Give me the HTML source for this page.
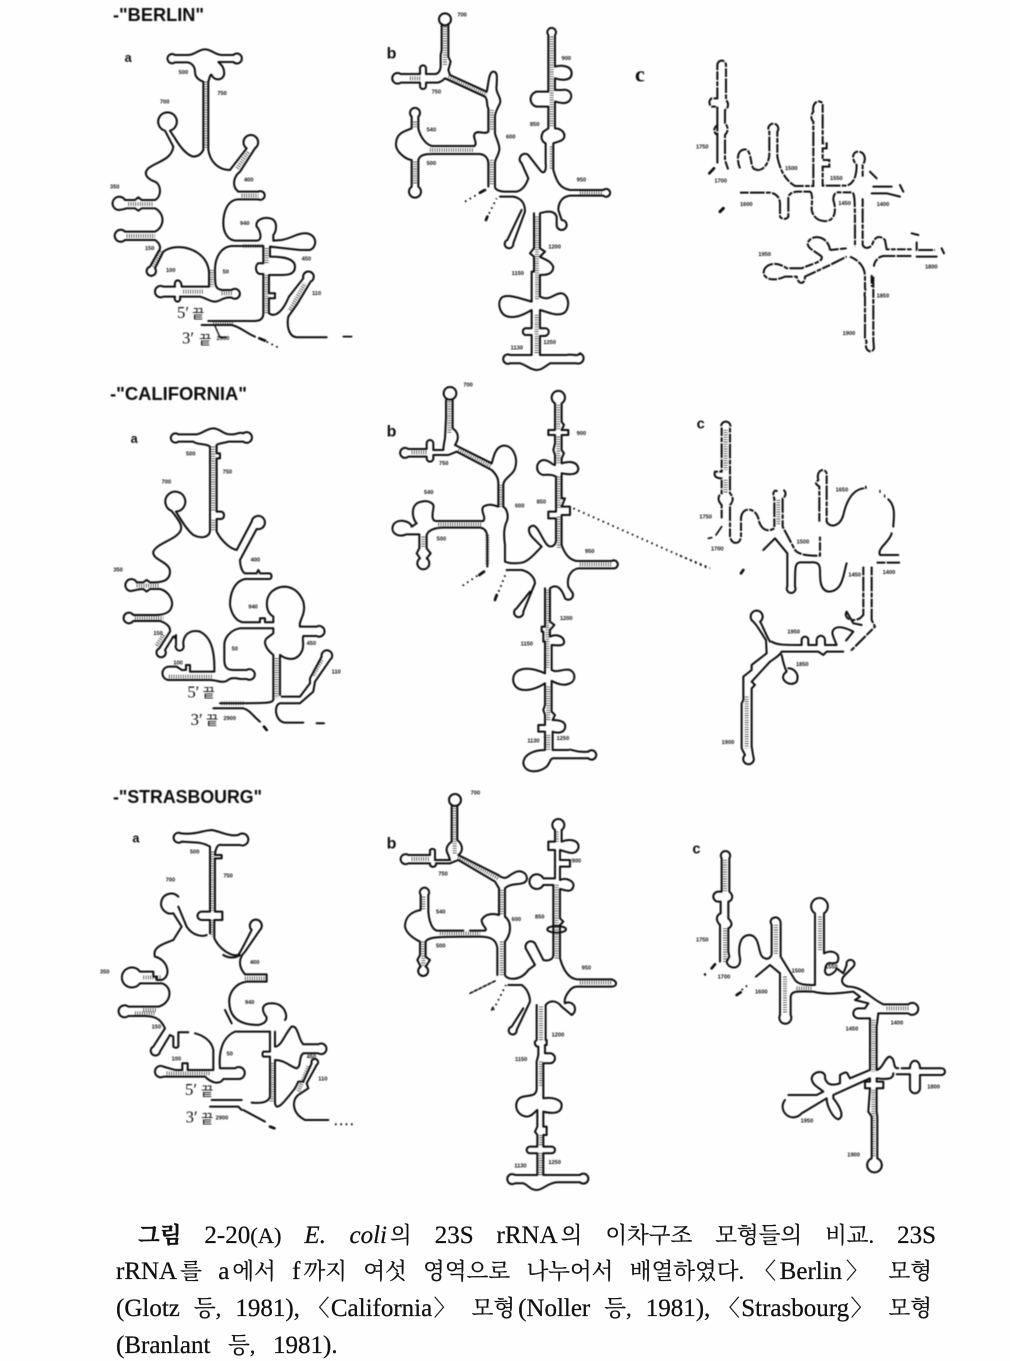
<!DOCTYPE html>
<html><head><meta charset="utf-8">
<style>
html,body{margin:0;padding:0;background:#fefefe}
body{width:1010px;height:1352px;overflow:hidden;position:relative}
svg{position:absolute;left:0;top:0}
.p{fill:none;stroke:#0a0a0a;stroke-width:6;stroke-linejoin:round;stroke-linecap:round}
.d{fill:none;stroke:#0a0a0a;stroke-width:6;stroke-dasharray:26 4 44 4 14 4}
.r{fill:none;stroke:#222;stroke-width:12;stroke-dasharray:2 5}
.dt{fill:none;stroke:#111;stroke-width:5.5;stroke-dasharray:5 11}
text{font-family:"Liberation Sans","Noto Sans CJK KR",sans-serif;fill:#111}
.l{font-size:17px;font-weight:bold}
.h{font-size:18px;font-weight:bold}
.k{font-size:24px;font-weight:bold}
.n{font-size:50px;font-family:"Liberation Serif",serif}
.q{font-size:40px;font-family:"Noto Sans CJK KR",sans-serif}
.t{position:absolute;font:22.5px/30px "Liberation Serif","Noto Serif CJK KR",serif;color:#111;white-space:nowrap;text-align:justify;text-align-last:justify;-webkit-text-stroke:.25px #111}
.t i{font-style:italic}
.e{font-size:25px}
.g{margin-left:3px}
.a{margin:0 -7px}
</style></head><body>
<svg width="1010" height="1352" viewBox="0 0 1010 1352" xmlns="http://www.w3.org/2000/svg">
<defs><filter id="b" x="-5%" y="-5%" width="110%" height="110%"><feGaussianBlur stdDeviation="0.4"/></filter></defs>
<g filter="url(#b)">
<text class="h" x="113" y="21" textLength="91" lengthAdjust="spacingAndGlyphs">-"BERLIN"</text>
<text class="h" x="110" y="400" textLength="137" lengthAdjust="spacingAndGlyphs">-"CALIFORNIA"</text>
<text class="h" x="113" y="803" textLength="149" lengthAdjust="spacingAndGlyphs">-"STRASBOURG"</text>

<!-- a Berlin -->
<g transform="translate(100,0) scale(.3333)">
<text class="k" x="74" y="186" style="font-size:38px">a</text>
<path class="p" d="M310 450V245C295 240 285 230 285 215C285 200 275 188 262 187H225A14 14 0 1 1 225 165H265C285 165 295 148 315 148C335 148 345 165 365 165H400A15 15 0 1 1 400 186H355C365 195 375 205 372 225C365 245 340 240 335 225C332 220 328 235 325 245V450C330 480 350 510 390 510L440 445A22 22 0 1 1 465 445L420 515C400 530 395 560 415 575H475A13 13 0 1 1 475 598H415C380 600 370 640 370 670C370 700 385 720 405 722H470C490 722 480 690 470 680C465 660 490 650 510 655C535 660 530 695 520 705V722L545 720C575 715 590 700 615 700C650 700 655 740 630 750H600L510 740V770C530 770 585 770 585 800C585 830 550 825 520 825H507V880H525V895H507V940C520 950 540 945 560 905L567 890L610 835A16 16 0 1 1 632 845L590 915L565 950C560 975 565 1010 590 1012H680"/>
<path class="p" d="M310 450C305 460 295 470 280 470C260 465 240 440 225 415L210 392A28 28 0 1 0 195 392L220 440C215 480 170 485 145 505C125 525 150 540 165 545C185 555 185 590 165 600H125L115 592L105 600H75A20 20 0 1 0 55 630C60 630 70 628 80 625H105L115 632L125 625H165C195 640 195 680 165 695H75A18 18 0 1 0 75 720H165C180 730 185 745 175 755L150 800A14 14 0 1 0 165 805L190 755C230 725 320 745 327 815V860H245C245 835 220 835 225 860H190A17 17 0 1 0 190 890H225C220 910 245 910 240 890H300C320 895 330 905 345 905C360 905 370 890 395 893A15 15 0 1 0 395 870H365C345 865 345 860 345 810C345 770 365 740 395 738H490V790H475C465 795 465 820 480 822H490V940C490 960 475 963 465 963H325"/>
<path class="p" d="M305 975H395C420 980 440 1000 465 1010"/><path class="p" d="M478 1015L495 1022" style="stroke-width:8"/><path class="dt" d="M500 1025L540 1045"/>
<path class="p" d="M730 1010H755" style="stroke-width:5"/>
<path class="p" d="M345 978L360 1012H378" style="stroke-width:4"/>
<path class="r" d="M318 245V445M412 505L445 455M425 587H475M85 612H160M80 708H165M160 800L185 755M335 810V860M250 875H310M365 880H395M430 738H490M500 745V790M500 825V940M570 930L615 850M340 968H400"/>
<text class="l" x="236" y="222">500</text><text class="l" x="352" y="285">750</text><text class="l" x="180" y="310">700</text><text class="l" x="432" y="544">400</text><text class="l" x="30" y="565">350</text><text class="l" x="420" y="675">940</text><text class="l" x="135" y="750">150</text><text class="l" x="198" y="816">100</text><text class="l" x="368" y="820">50</text><text class="l" x="605" y="782">450</text><text class="l" x="636" y="885">110</text><text class="l" x="350" y="1020">2900</text>
<text class="n" x="231" y="954">5′</text><text class="q" x="276" y="956">끝</text>
<text class="n" x="246" y="1030">3′</text><text class="q" x="297" y="1034">끝</text>
</g>

<!-- b Berlin -->
<g transform="translate(380,0) scale(.3333)">
<text class="k" x="20" y="175" style="font-size:48px">b</text>
<circle class="p" cx="195" cy="58" r="18"/>
<path class="p" d="M185 72V150L182 165V200C180 215 175 222 165 222H138V205A8 8 0 0 0 120 205V222H62A16 16 0 1 0 62 248H120V258A8 8 0 0 0 138 258V248H170C180 248 190 240 195 235L315 290C325 300 318 315 325 325V395C315 405 295 390 285 400C275 410 295 430 283 438H155C130 430 118 400 115 385V350A15 15 0 1 0 95 350V385C70 395 50 400 48 430C45 455 80 480 95 480V560A18 18 0 1 0 115 560V480C120 465 135 462 155 462H300C320 465 325 480 325 490V560"/>
<path class="p" d="M205 72V170L212 185L205 210L210 225L320 275C325 260 325 215 340 215C355 215 350 240 350 255C345 280 365 290 360 310C350 330 345 340 345 350V400C350 420 360 435 358 450C355 470 345 475 345 490V560C345 570 360 575 380 575H410C430 570 440 550 445 535L425 490A13 13 0 0 1 445 465L480 510C490 525 500 515 497 490V430C485 425 480 410 490 395L505 385V320H470A23 23 0 0 1 470 275H505V150V105A13 13 0 1 1 525 105V200C540 195 575 195 575 220C575 245 540 240 525 235V270H545C570 265 580 285 570 300C560 315 540 308 525 305V385C545 385 555 400 553 410C550 425 530 425 520 430V510C530 545 540 565 570 570H670A12 12 0 1 1 670 587H570C545 590 535 610 535 630L545 660A15 15 0 1 1 530 675L530 650C525 635 510 630 480 640V745L495 755L480 770C495 780 510 780 520 800C520 825 495 825 480 825V890C510 905 520 880 545 880C570 885 570 930 550 940C530 950 500 935 480 930V985H495C510 985 510 1005 495 1008H480V1065H560C580 1060 590 1072 600 1060A15 15 0 1 1 590 1090H510C495 1100 485 1110 470 1110C450 1110 440 1095 420 1090H390A14 14 0 1 1 390 1065H455V1005H435A11 11 0 0 1 435 985H455V930C430 945 405 955 385 950C360 945 350 910 365 893C380 880 420 895 455 905V815H462V770L450 760L462 745V640"/>
<path class="p" d="M360 590H400C425 595 435 610 435 635L400 730A13 13 0 1 1 382 720L425 630"/>
<path class="dt" d="M255 605L315 570M320 655L350 595"/>
<path class="p" d="M300 578L315 570M318 660L322 650" style="stroke-width:8"/>
<path class="r" d="M195 80V195M90 235H120M205 232L320 285M335 330V390M150 450H280M105 365V385M105 485V555M335 480V555M515 110V380M515 440V510M600 578H670M471 650V900M470 945V1060"/>
<text class="l" x="232" y="50">700</text><text class="l" x="155" y="280">750</text><text class="l" x="140" y="395">540</text><text class="l" x="140" y="495">500</text><text class="l" x="378" y="415">600</text><text class="l" x="545" y="180">900</text><text class="l" x="450" y="378">850</text><text class="l" x="590" y="545">950</text><text class="l" x="505" y="745">1200</text><text class="l" x="395" y="825">1150</text><text class="l" x="392" y="1048">1130</text><text class="l" x="490" y="1032">1250</text>
</g>

<!-- c Berlin -->
<g transform="translate(670,40) scale(.3333)">
<text class="s" x="-105" y="125" style="font-size:66px;font-weight:bold;font-family:'Liberation Serif',serif">c</text>
<path class="d" d="M142 370V200H125A15 15 0 0 1 125 175H142V75A13 13 0 1 1 168 75V180C178 190 175 205 165 210V250C180 265 170 280 165 285V360L175 390M142 200V255C125 270 135 280 142 285V370"/>
<path class="p" d="M132 385L118 400" style="stroke-width:8"/>
<path class="d" d="M210 385C200 360 200 330 225 328C245 330 240 370 250 385C270 400 295 380 298 345V275A15 15 0 1 1 322 275V350C330 390 345 420 375 438H430V245C420 235 425 220 430 215C425 190 445 175 458 190V310H470V325H458V360H478V380H458V437H530C555 430 560 400 560 375C545 360 545 335 565 335C585 335 590 360 578 375V410"/>
<path class="d" d="M210 458H300C320 460 330 475 330 490V530A15 15 0 0 0 355 530V475C355 460 370 455 385 455H420C430 460 425 490 425 510C430 535 450 545 470 543C495 540 500 510 490 480C490 465 495 455 510 457H545C555 460 555 470 555 620M578 475V615C585 630 605 625 610 605C620 585 635 590 645 600L650 628H725M740 605V630H795M650 648H640C625 650 612 665 612 680M650 648H725M605 705V740"/>
<path class="p" d="M600 395L620 415M610 440H665M605 460H650L690 470M690 435L700 455M740 650H800M725 580L745 585M815 625L822 640"/>
<path class="p" d="M150 515L160 505" style="stroke-width:9"/>
<path class="d" d="M480 630C475 590 430 580 415 605C405 625 440 635 455 650C460 665 430 670 395 685H350C330 670 300 665 285 685C270 710 300 730 345 710H380C385 735 405 735 405 710L480 675L530 650M480 630L530 625M540 650C565 660 585 680 585 710V745C590 755 580 760 585 770V895L590 905C580 930 605 945 612 925L610 900V765V710"/>
<text class="l" x="78" y="325">1750</text><text class="l" x="133" y="428">1700</text><text class="l" x="345" y="390">1500</text><text class="l" x="210" y="498">1600</text><text class="l" x="480" y="420">1550</text><text class="l" x="505" y="495">1450</text><text class="l" x="620" y="498">1400</text><text class="l" x="265" y="648">1950</text><text class="l" x="620" y="772">1850</text><text class="l" x="518" y="885">1900</text><text class="l" x="765" y="685">1800</text>
</g>

<!-- a California -->
<g transform="translate(100,375) scale(.3333)">
<text class="k" x="92" y="204" style="font-size:38px">a</text>
<path class="p" d="M330 470V215C320 205 290 210 280 200H235A14 14 0 1 1 235 178H290C310 175 320 160 340 160C360 160 370 180 395 178C410 180 415 170 430 175A16 16 0 1 1 430 200H385C370 205 345 205 350 215V235H360V250H350V410H365A12 12 0 0 1 365 432H350V470C360 490 385 520 410 525L455 440A20 20 0 1 1 470 462L420 555C420 570 425 590 435 595H470L475 585L480 595H510A10 10 0 0 1 510 612H435C400 620 390 660 390 690C395 720 410 740 430 742H480V730H495V742H520V725C495 710 495 670 515 650C545 625 590 630 610 680C620 720 595 735 600 755H650A16 16 0 1 1 650 783H610C605 795 615 810 605 830C590 860 560 855 540 840V960"/>
<path class="p" d="M330 470C325 490 300 490 280 480C260 465 240 430 228 410A30 30 0 1 0 215 408C240 440 250 455 240 470C225 495 170 505 160 530C155 555 210 560 210 590C210 615 190 622 165 622H150L140 615L130 622H110A18 18 0 1 0 90 648C105 648 110 642 130 642L140 650L150 642H180C210 650 220 680 215 695C210 715 190 720 165 720H100A16 16 0 1 0 100 738H180C200 745 212 755 210 770L178 820A14 14 0 1 0 195 825L220 785C225 780 225 800 228 780V810A12 12 0 1 0 250 810L250 800C255 770 280 765 300 770C330 785 345 820 343 890H270V870H258V885H245L230 875H210A15 15 0 1 0 205 915H330C350 915 365 925 380 918C395 905 410 910 420 912H440A16 16 0 1 0 440 885H400C380 885 373 875 373 855V810C373 790 390 765 420 760H520V775L500 790C490 800 495 820 520 840V975C515 985 500 985 360 985"/>
<path class="p" d="M545 965H600L630 925V910L665 845A16 16 0 1 1 690 855L645 920L640 950L600 985H540C520 990 525 1040 555 1043H610M340 1000H430C450 1005 460 1025 480 1040"/>
<path class="p" d="M492 1055L500 1065" style="stroke-width:8"/><path class="p" d="M650 1045H672" style="stroke-width:6"/>
<path class="r" d="M340 215V410M340 435V470M110 632H180M105 729H190M190 780L168 815M207 905H335M530 850V970M640 900L665 855M365 985H430"/>
<text class="l" x="258" y="242">500</text><text class="l" x="368" y="296">750</text><text class="l" x="185" y="325">700</text><text class="l" x="452" y="560">400</text><text class="l" x="40" y="590">350</text><text class="l" x="445" y="700">940</text><text class="l" x="160" y="780">150</text><text class="l" x="220" y="868">100</text><text class="l" x="395" y="826">50</text><text class="l" x="620" y="810">450</text><text class="l" x="695" y="895">110</text><text class="l" x="370" y="1035">2900</text>
<text class="n" x="262" y="968">5′</text><text class="q" x="308" y="968">끝</text>
<text class="n" x="272" y="1050">3′</text><text class="q" x="318" y="1050">끝</text>
</g>

<!-- b California -->
<g transform="translate(380,375) scale(.3333)">
<text class="k" x="20" y="185" style="font-size:48px">b</text>
<circle class="p" cx="210" cy="55" r="19"/>
<path class="p" d="M198 75V130L195 190C190 215 190 222 190 225H160V205A10 10 0 0 0 140 205V222H85A15 15 0 1 0 85 245H140V250A10 10 0 0 0 160 250V240H205L230 230L335 285C350 300 355 310 355 325V395C340 390 325 385 310 395C300 410 320 425 310 438H170C150 440 160 405 160 400C165 385 145 375 125 380C90 385 95 430 110 445L95 455C90 435 50 430 40 450C30 470 50 490 80 478H118V520L110 535L120 550A18 18 0 1 0 140 550L152 535L140 520V480C145 465 165 458 190 458H300C315 460 322 470 322 490V575"/>
<path class="p" d="M218 75V160C240 175 235 195 225 210L335 265C340 250 345 215 370 212C400 210 415 250 405 280C400 300 370 310 370 330V395C385 405 385 430 380 440C370 460 372 490 375 510V560C385 565 410 567 430 562C450 555 470 530 485 515L460 490C445 475 440 455 460 452C475 455 485 490 500 508C510 520 530 515 528 490V430H505V410H528V305C520 300 510 298 490 300C465 295 465 260 490 255C510 255 515 270 525 270V240L520 225L525 205V180H505V165H525V85A20 20 0 1 1 545 85V140L552 150L545 165H565V180H545V225L552 235L545 250V265C560 260 590 255 595 280C595 300 570 300 545 295V370H555L545 395H570V420H545V510C555 540 570 555 590 558H695A12 12 0 1 1 700 580H595C570 585 560 610 565 635L575 650A14 14 0 1 1 555 670C545 640 530 625 510 640V740L523 750L510 765V785C530 775 555 785 552 805C545 815 530 810 515 810V885C530 895 550 880 570 885C590 895 585 920 570 925C550 935 530 925 515 918V1010L525 1020L518 1035C540 1035 560 1040 555 1060C550 1075 530 1075 518 1070V1125H565C575 1120 585 1135 625 1130A14 14 0 1 1 625 1150H575L555 1150H520C510 1150 510 1165 500 1175C475 1195 435 1195 430 1165C430 1140 460 1125 495 1125V1070H475V1050H495V1020L490 1005L495 990V925C465 945 410 960 400 920C395 880 440 870 495 895V800H490V770H485V755H495V640"/>
<path class="p" d="M380 585H425C450 590 465 610 465 625L430 710A14 14 0 1 1 410 700L450 650"/>
<path class="dt" d="M248 632L295 600M350 665L380 590M580 400L990 582"/>
<path class="p" d="M298 600L312 590M345 675L350 660" style="stroke-width:8"/>
<path class="r" d="M208 80V175M95 232H140M235 225L335 275M362 330V395M175 448H305M130 485V520M322 480V570M535 90V165M535 185V265M537 305V400M537 425V520M600 568H695M502 645V880M505 935V1040M505 1080V1125"/>
<text class="l" x="250" y="35">700</text><text class="l" x="177" y="270">750</text><text class="l" x="132" y="357">540</text><text class="l" x="170" y="497">500</text><text class="l" x="405" y="398">600</text><text class="l" x="590" y="180">900</text><text class="l" x="470" y="385">850</text><text class="l" x="615" y="534">950</text><text class="l" x="540" y="735">1200</text><text class="l" x="422" y="812">1150</text><text class="l" x="442" y="1103">1130</text><text class="l" x="530" y="1095">1250</text>
</g>

<!-- c California -->
<g transform="translate(680,410) scale(.3333)">
<text class="k" x="50" y="55" style="font-size:44px">c</text>
<path class="d" d="M125 325V285C110 270 115 255 125 250V205C110 205 100 200 105 185H125V55A14 14 0 1 1 150 55V250C165 265 155 280 150 285V380C155 405 180 405 183 380V325C185 290 225 290 235 325C240 355 260 370 283 355V265C275 250 285 235 292 245M310 240C320 245 318 260 308 265V350L345 420C355 435 390 438 420 437V380"/>
<path class="p" d="M125 350L108 375M85 385L95 383" style="stroke-width:5"/>
<path class="d" d="M418 335V230C405 220 405 220 415 210C405 175 445 170 440 200V335"/>
<path class="p" d="M440 335C450 355 480 350 490 315C500 270 520 240 550 235M625 268C650 290 640 330 640 350M635 370C630 395 590 415 600 435H655M500 460C490 490 490 545 445 545C420 540 420 510 420 480C420 460 410 455 390 457H360C345 460 345 470 345 530A13 13 0 1 1 322 530V430L285 385L250 420"/>
<path class="dt" d="M0 437L90 474"/><path class="dt" d="M555 232H560M598 244H602M612 258H616" style="stroke-width:9"/>
<path class="p" d="M183 490L190 480" style="stroke-width:8"/>
<path class="d" d="M590 458H660M550 470V615L540 625C510 640 490 620 500 605M575 470V630L585 650L510 725"/>
<path class="p" d="M270 695C255 670 245 640 240 635A18 18 0 1 0 220 635C235 650 250 680 258 690L260 730L215 765L215 780L190 800V870L185 880V1015L195 1035A16 16 0 1 0 220 1040L215 1010V835L225 825L215 815L270 755C285 745 300 735 305 725H415L430 735L440 725H490M275 695C290 705 310 705 365 705V690A9 9 0 0 1 385 690V705H410V690A9 9 0 0 1 435 690V705H470C460 680 450 665 465 655C480 645 510 660 520 665C500 690 495 695 500 690M500 605L520 640L545 645M305 735C310 760 315 775 320 785C290 805 330 835 350 815C360 790 340 775 325 775"/>
<path class="r" d="M200 860V1015M137 60V180M137 210V250M295 270V345"/>
<text class="l" x="58" y="325">1750</text><text class="l" x="93" y="422">1700</text><text class="l" x="350" y="400">1500</text><text class="l" x="467" y="245">1650</text><text class="l" x="505" y="500">1450</text><text class="l" x="608" y="492">1400</text><text class="l" x="322" y="670">1950</text><text class="l" x="348" y="768">1850</text><text class="l" x="125" y="1002">1900</text>
</g>

<!-- a Strasbourg -->
<g transform="translate(95,780) scale(.3333)">
<text class="k" x="112" y="188" style="font-size:38px">a</text>
<path class="p" d="M345 460V420H320A12 12 0 0 1 320 395H345V215V200C320 185 300 188 260 185A15 15 0 1 1 258 160C300 165 320 152 350 150C380 155 400 170 430 165A18 18 0 1 1 435 195H380C365 190 360 215 360 225H380V235H360V395H382V420H358V475C375 510 410 530 430 525C440 510 460 470 470 450A18 18 0 1 1 495 450L450 515C430 535 430 560 450 583H515V605H455C420 610 400 640 403 670C405 710 430 735 490 735C515 730 520 715 510 705C495 680 510 670 530 670C570 670 580 710 570 720"/>
<path class="p" d="M525 755H420C385 770 370 810 375 865H420A18 18 0 1 1 430 897H385C375 915 350 910 330 890H205A17 17 0 1 1 205 860L240 870H262V850H278V870H355V810C350 780 320 765 300 760M280 757H250V800A10 10 0 0 1 235 800V770L225 765L195 815A14 14 0 1 1 175 800L210 745C200 725 190 708 150 708H100A18 18 0 1 1 100 680H190C230 670 235 620 200 610H135A30 30 0 1 1 135 575H175V590H185V600H200C230 590 220 540 180 530C170 500 210 490 235 480L260 440L235 400A30 30 0 1 1 250 350M250 380L275 440C295 470 325 470 335 465"/>
<path class="p" d="M525 755V815H505A12 12 0 0 0 505 830H525V950C520 970 490 970 470 968M540 755V800C560 800 570 760 590 740C610 735 610 780 625 793H670A16 16 0 1 1 670 820H625C610 830 620 860 605 865C585 860 570 840 540 840V970C545 995 565 970 600 925L610 905L625 905L650 850A10 10 0 1 1 665 855L635 910L640 925L610 945C590 960 590 1000 630 1020H700M350 960H440M345 980H430L440 990M445 990L510 1025"/>
<path class="p" d="M385 525C400 535 420 535 435 525M390 690L410 730"/>
<path class="dt" d="M720 1033H780" style="stroke-width:6"/><path class="p" d="M525 1040L538 1045" style="stroke-width:8"/>
<path class="r" d="M352 215V395M352 420V470M145 690H185M120 700H180M145 592H200M215 880H345M530 850V965M640 860L610 935M450 595H510"/>
<text class="l" x="285" y="220">500</text><text class="l" x="385" y="292">750</text><text class="l" x="212" y="305">700</text><text class="l" x="465" y="552">400</text><text class="l" x="15" y="580">350</text><text class="l" x="450" y="672">940</text><text class="l" x="170" y="745">150</text><text class="l" x="230" y="842">100</text><text class="l" x="395" y="826">50</text><text class="l" x="635" y="835">450</text><text class="l" x="670" y="902">110</text><text class="l" x="362" y="1018">2900</text>
<text class="n" x="270" y="945">5′</text><text class="q" x="318" y="948">끝</text>
<text class="n" x="272" y="1028">3′</text><text class="q" x="318" y="1030">끝</text>
</g>

<!-- b Strasbourg -->
<g transform="translate(380,785) scale(.3333)">
<text class="k" x="20" y="190" style="font-size:48px">b</text>
<circle class="p" cx="225" cy="45" r="18"/>
<path class="p" d="M215 65V170C200 180 195 195 205 210L210 225L165 225V195A10 10 0 0 0 150 195V210H85A15 15 0 1 0 85 235H150V240A10 10 0 0 0 168 240V235H210L235 225L345 290L357 310V390C340 385 315 385 305 405C305 425 325 430 315 437H270M250 437H170C150 430 145 390 145 375V330A14 14 0 1 0 122 330V375C95 380 75 395 75 425C80 450 110 465 120 470V510L112 525L122 545A15 15 0 1 0 137 545L150 525L137 515V470C145 455 175 455 300 455C340 455 350 470 352 490V570"/>
<path class="p" d="M232 65V165C250 180 250 200 235 210L355 270C380 290 385 270 400 265C420 250 445 265 440 285C430 305 395 290 375 310V395C395 410 395 445 375 470V570C380 585 420 590 445 555L465 540L440 495A15 15 0 1 1 465 475L490 525C510 530 520 520 520 510V420V300H490A22 22 0 1 1 490 280H525V195H505V170H525V135A18 18 0 1 1 545 135V170C570 160 600 165 595 190C585 215 560 200 540 195V225H570V245H540V285C560 275 585 290 580 305C575 325 555 315 540 312V400L550 410L540 420V520C550 555 565 580 590 583H695C715 590 710 605 695 605H590C570 605 550 640 555 655A14 14 0 1 1 575 690L545 665C530 645 510 645 497 660V765H500V780H495V805H510A15 15 0 0 1 510 835H490V940C520 935 545 945 545 960C545 990 510 985 490 980V1025H500V1050H490V1085H515A10 10 0 0 1 515 1105H490V1170H600A15 15 0 1 1 600 1192H530C500 1195 490 1215 470 1215C450 1215 445 1200 430 1195H405A15 15 0 1 1 405 1170H472V1105H450A10 10 0 0 1 450 1085H472V1050L465 1040L472 1025V975C465 980 455 995 440 995C400 990 400 940 430 935C450 930 470 935 470 910V830C470 830 470 830 475 810V785C465 785 460 770 470 765V660"/>
<ellipse class="p" cx="530" cy="433" rx="28" ry="10"/>
<path class="p" d="M385 600H425C440 610 450 630 450 650L410 735A12 12 0 1 1 395 725L430 670"/>
<path class="p" d="M270 625L345 588M335 675L340 665" style="stroke-width:5;stroke-dasharray:9 6"/>
<path class="dt" d="M340 675L378 600"/>
<path class="r" d="M224 70V205M95 222H150M235 215L355 280M365 315V390M365 470V570M130 335V375M130 470V545M180 445H300M530 300V420M530 420V520M530 140V170M600 593H695M483 665V770M483 830V905M483 1050V1085M482 1105V1170"/>
<text class="l" x="272" y="28">700</text><text class="l" x="175" y="272">750</text><text class="l" x="168" y="385">540</text><text class="l" x="168" y="488">500</text><text class="l" x="395" y="408">600</text><text class="l" x="575" y="233">900</text><text class="l" x="465" y="400">850</text><text class="l" x="605" y="553">950</text><text class="l" x="515" y="755">1200</text><text class="l" x="405" y="828">1150</text><text class="l" x="403" y="1147">1130</text><text class="l" x="505" y="1137">1250</text>
</g>

<!-- c Strasbourg -->
<g transform="translate(670,830) scale(.3333)">
<text class="k" x="67" y="70" style="font-size:44px">c</text>
<path class="p" d="M150 395V285C135 270 140 255 152 250V215H145A15 15 0 0 1 145 185H155V85A14 14 0 1 1 178 85V185C190 195 190 210 175 215V265C190 280 185 290 175 295V365L178 380L170 395C175 420 215 420 210 385C205 360 205 315 240 315C275 320 260 380 285 385C295 390 305 380 305 370V285C290 260 335 250 332 285V380L375 450C385 465 410 465 435 465V250A25 25 0 1 1 462 250V370C480 360 505 365 505 385C505 400 495 400 485 400C470 395 465 410 465 425C470 445 495 430 500 415L520 430L530 405A12 12 0 1 1 550 410L525 435C510 450 515 465 535 470C580 470 600 505 640 523H715A18 18 0 1 1 715 550H625L620 590V720C640 715 645 680 660 680C680 690 665 715 685 715"/>
<path class="p" d="M258 440L300 405L330 430V555A18 18 0 1 0 362 555V500C365 480 385 485 430 485C470 495 500 490 550 485L570 500L555 510L595 520L585 535H565A12 12 0 0 0 565 565H600V720L540 745C530 730 535 720 510 735V760C480 770 470 760 465 745C470 720 430 720 425 745C425 765 450 775 460 785L440 795H355M345 810A22 22 0 0 0 395 850L470 805C470 830 490 865 505 868C525 860 510 830 490 805L490 795L600 745V755H585V775H600L595 845L605 860V985A22 22 0 1 0 622 985V860L620 845V775H640V755H620V745C660 750 670 745 670 730M680 733H720V775A15 15 0 1 0 750 775V735H815A10 10 0 1 0 815 715H750C750 685 720 685 720 715H695"/>
<path class="p" d="M125 415L135 403M200 495L212 487" style="stroke-width:8"/>
<path class="dt" d="M215 480L240 460"/>
<path class="p" d="M105 433V434" style="stroke-width:7"/>
<path class="r" d="M165 90V185M165 295V395M318 285V375M450 260V360M345 440V550M610 570V725M610 780V980M650 535H715M380 475H425"/>
<text class="l" x="78" y="335">1750</text><text class="l" x="143" y="445">1700</text><text class="l" x="365" y="428">1500</text><text class="l" x="255" y="490">1600</text><text class="l" x="465" y="415">1550</text><text class="l" x="527" y="602">1450</text><text class="l" x="662" y="584">1400</text><text class="l" x="772" y="775">1800</text><text class="l" x="392" y="878">1950</text><text class="l" x="532" y="980">1900</text>
</g>
</g>
</svg>
<div class="t" style="left:138px;top:1221px;width:798px"><b>그림</b> <span class="e">2-20</span>(A) <i class="e">E. coli</i><span class="g">의</span> <span class="e">23S</span> <span class="e">rRNA</span><span class="g">의</span> 이차구조 모형들의 비교. <span class="e">23S</span></div>
<div class="t" style="left:116px;top:1257px;width:816px"><span class="e">rRNA</span><span class="g">를</span> <span class="e">a</span><span class="g">에서</span> <span class="e">f</span><span class="g">까지</span> 여섯 영역으로 나누어서 배열하였다. <span class="a">〈</span><span class="e">Berlin</span><span class="a">〉</span> 모형</div>
<div class="t" style="left:116px;top:1294px;width:816px"><span class="e">(Glotz</span> 등, <span class="e">1981),</span> <span class="a">〈</span><span class="e">California</span><span class="a">〉</span> 모형<span class="g e">(Noller</span> 등, <span class="e">1981),</span> <span class="a">〈</span><span class="e">Strasbourg</span><span class="a">〉</span> 모형</div>
<div class="t" style="left:116px;top:1331px;text-align-last:left;word-spacing:12px"><span class="e">(Branlant</span> 등, <span class="e">1981).</span></div>
</body></html>
